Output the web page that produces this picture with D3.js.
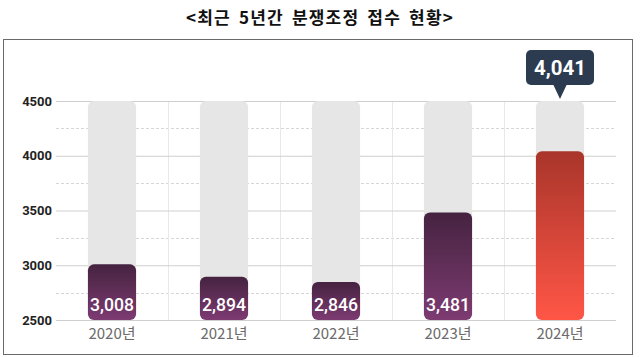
<!DOCTYPE html>
<html>
<head>
<meta charset="utf-8">
<script src="https://cdn.jsdelivr.net/npm/d3@7"></script>
<style>
  body { margin: 0; background: #fff; }
  svg { display: block; }
</style>
</head>
<body>
<svg width="640" height="357"></svg>
<script>
var svg = d3.select("svg"),
  width = +svg.attr("width"),
  height = +svg.attr("height");

// data
var years = ["2020년", "2021년", "2022년", "2023년", "2024년"];
var counts = [3008, 2894, 2846, 3481, 4041];
var yTicks = [2500, 3000, 3500, 4000, 4500];
var title = "<최근 5년간 분쟁조정 접수 현황>";

var margin = {left: 56, right: 24, top: 101, bottom: 37};

var x = d3.scaleBand()
  .domain(years)
  .range([margin.left, width - margin.right])
  .paddingInner(0.57)
  .paddingOuter(0.285);

var y = d3.scaleLinear()
  .domain([2500, 4500])
  .range([height - margin.bottom, margin.top]);

var defs = svg.append("defs");
var gp = defs.append("linearGradient").attr("id", "purple")
  .attr("x1", 0).attr("y1", 0).attr("x2", 0).attr("y2", 1);
gp.append("stop").attr("offset", "0%").attr("stop-color", "#452340");
gp.append("stop").attr("offset", "100%").attr("stop-color", "#7d3b72");
var gr = defs.append("linearGradient").attr("id", "red")
  .attr("x1", 0).attr("y1", 0).attr("x2", 0).attr("y2", 1);
gr.append("stop").attr("offset", "0%").attr("stop-color", "#a9352b");
gr.append("stop").attr("offset", "100%").attr("stop-color", "#ff5646");

// title
svg.append("text")
  .attr("x", width / 2).attr("y", 24)
  .attr("text-anchor", "middle")
  .style("font-family", "'Noto Sans CJK KR', sans-serif")
  .style("font-weight", "bold")
  .style("font-size", "17px")
  .style("letter-spacing", "1.2px")
  .style("word-spacing", "3px")
  .attr("fill", "#111")
  .text(title);

// frame
svg.append("rect")
  .attr("x", 3.5).attr("y", 39.5)
  .attr("width", 629).attr("height", 315)
  .attr("fill", "none")
  .attr("stroke", "#6a6a6a");

// grid
var grid = svg.append("g");
var halfTicks = d3.range(2750, 4500, 500);
grid.selectAll(".dash").data(halfTicks).enter().append("line")
  .attr("x1", margin.left).attr("x2", width - margin.right)
  .attr("y1", function(d) { return Math.round(y(d)) + 0.5; })
  .attr("y2", function(d) { return Math.round(y(d)) + 0.5; })
  .attr("stroke", "#d6d6d6")
  .attr("stroke-dasharray", "3,2");
grid.selectAll(".vline").data(years.slice(1)).enter().append("line")
  .attr("x1", function(d) { return Math.round(x(d) - x.step() * x.paddingInner() / 2) + 0.5; })
  .attr("x2", function(d) { return Math.round(x(d) - x.step() * x.paddingInner() / 2) + 0.5; })
  .attr("y1", y(4500)).attr("y2", y(2500))
  .attr("stroke", "#e8e8e8");

var axis = d3.axisLeft(y).tickValues(yTicks).tickFormat(d3.format("d"))
  .tickSize(-(width - margin.left - margin.right)).tickPadding(4);
var ag = svg.append("g").attr("transform", "translate(" + margin.left + ",0)").call(axis);
ag.select(".domain").remove();
ag.selectAll(".tick line").attr("stroke", "#cfcfcf");
ag.selectAll(".tick text")
  .attr("fill", "#222")
  .style("font-family", "Roboto, sans-serif")
  .style("font-weight", "bold")
  .style("font-size", "13px");

// background bars
svg.append("g").selectAll("rect").data(years).enter().append("rect")
  .attr("x", function(d) { return x(d); })
  .attr("y", y(4500))
  .attr("width", x.bandwidth())
  .attr("height", y(2500) - y(4500))
  .attr("rx", 6)
  .attr("fill", "#e6e6e6");

// value bars
svg.append("g").selectAll("rect").data(counts).enter().append("rect")
  .attr("x", function(d, i) { return x(years[i]); })
  .attr("y", function(d) { return y(d); })
  .attr("width", x.bandwidth())
  .attr("height", function(d) { return y(2500) - y(d); })
  .attr("rx", 6)
  .attr("fill", function(d, i) { return i == counts.length - 1 ? "url(#red)" : "url(#purple)"; });

// value labels
svg.append("g").selectAll("text").data(counts.slice(0, 4)).enter().append("text")
  .attr("x", function(d, i) { return x(years[i]) + x.bandwidth() / 2; })
  .attr("y", y(2500) - 9)
  .attr("text-anchor", "middle")
  .attr("fill", "#fff")
  .style("font-family", "Roboto, sans-serif")
  .style("font-weight", "500")
  .style("font-size", "18px")
  .attr("textLength", 44)
  .attr("lengthAdjust", "spacingAndGlyphs")
  .text(function(d) { return d3.format(",")(d); });

// x labels
svg.append("g").selectAll("text").data(years).enter().append("text")
  .attr("x", function(d) { return x(d) + x.bandwidth() / 2; })
  .attr("y", y(2500) + 19)
  .attr("text-anchor", "middle")
  .attr("fill", "#6b6b6b")
  .style("font-family", "'Noto Sans CJK KR', sans-serif")
  .style("font-size", "15px")
  .text(function(d) { return d; });

// callout for last year
var last = counts.length - 1;
var cx = x(years[last]) + x.bandwidth() / 2;
var call = svg.append("g");
call.append("rect")
  .attr("x", cx - 34).attr("y", 50)
  .attr("width", 68).attr("height", 35)
  .attr("rx", 5)
  .attr("fill", "#2d3b50");
call.append("path")
  .attr("d", "M" + (cx - 7) + ",84 L" + (cx + 7) + ",84 L" + cx + ",99 Z")
  .attr("fill", "#2d3b50");
call.append("text")
  .attr("x", cx).attr("y", 75)
  .attr("text-anchor", "middle")
  .attr("fill", "#fff")
  .style("font-family", "Roboto, sans-serif")
  .style("font-weight", "bold")
  .style("font-size", "21px")
  .attr("textLength", 52)
  .attr("lengthAdjust", "spacingAndGlyphs")
  .text(d3.format(",")(counts[last]));
</script>
</body>
</html>
